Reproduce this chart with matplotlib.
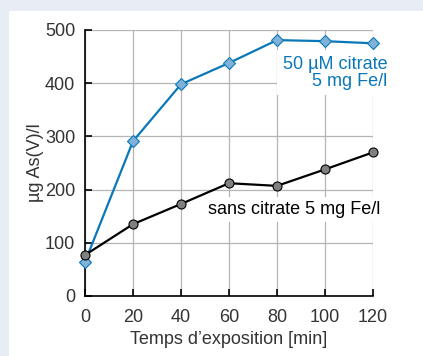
import matplotlib
matplotlib.use("Agg")
import matplotlib.pyplot as plt
from matplotlib.patches import Rectangle

plt.rcParams['font.family'] = ['Liberation Sans', 'DejaVu Sans']

temps = [0, 20, 40, 60, 80, 100, 120]
avec_citrate = [64, 291, 398, 438, 481, 479, 475]
sans_citrate = [77, 135, 173, 212, 207, 238, 270]

bg = "#e8edf5"
blue = "#0a78b8"
txt = "#333333"

fig = plt.figure(figsize=(4.23, 3.56), dpi=100, facecolor=bg)
# white card behind the chart
fig.patches.append(Rectangle((9 / 423, 0), 1, (356 - 11) / 356, transform=fig.transFigure,
                             facecolor="white", edgecolor="none", zorder=-10))
ax = fig.add_axes([85 / 423, 60 / 356, 288 / 423, 266 / 356])
ax.set_facecolor("none")

ax.plot(temps, avec_citrate, color=blue, lw=1.6, marker="D", ms=6.5,
        mfc="#7fb1d9", mec=blue, mew=0.8, clip_on=False, zorder=5)
ax.plot(temps, sans_citrate, color="black", lw=1.6, marker="o", ms=6.5,
        mfc="#808080", mec="black", mew=0.8, clip_on=False, zorder=5)

ax.text(126, 420, "50 \u00b5M citrate\n5 mg Fe/l", color=blue, fontsize=13,
        ha="right", va="center", linespacing=1.0, zorder=4,
        bbox=dict(facecolor="white", edgecolor="none", pad=4))
ax.text(123, 162, "sans citrate 5 mg Fe/l", color="black", fontsize=13,
        ha="right", va="center", zorder=4,
        bbox=dict(facecolor="white", edgecolor="none", pad=3))

ax.set_xlim(0, 120)
ax.set_ylim(0, 500)
ax.set_xticks(temps)
ax.set_yticks([0, 100, 200, 300, 400, 500])
ax.grid(True, color="#b5b5b5", lw=0.9, zorder=1)
ax.set_axisbelow(True)
ax.tick_params(direction="in", length=5, width=1.2, color="black",
               labelsize=13, labelcolor=txt)
ax.tick_params(axis="x", pad=9)
ax.tick_params(axis="y", pad=7)
for s in ["top", "right"]:
    ax.spines[s].set_visible(False)
for s in ["left", "bottom"]:
    ax.spines[s].set_linewidth(1.2)

ax.set_xlabel("Temps d\u2019exposition [min]", fontsize=13, color=txt, labelpad=4)
ax.set_ylabel("\u00b5g As(V)/l", fontsize=13, color=txt, labelpad=1)

fig.savefig("out.png", dpi=100, facecolor=bg)
